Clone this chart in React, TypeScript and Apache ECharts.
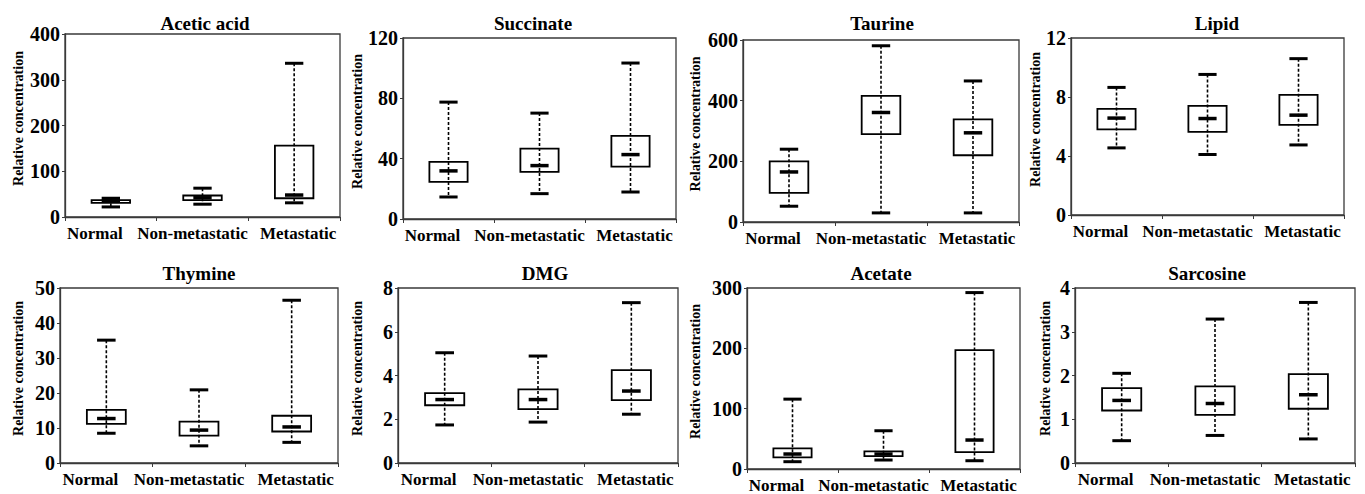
import React, { useEffect, useRef } from "react";
import * as echarts from "echarts";

const categories = ["Normal", "Non-metastatic", "Metastatic"];

// each row: [min, q1, median, q3, max] for Normal, Non-metastatic, Metastatic
const aceticAcid = [[22, 31, 35, 37, 41], [28, 37, 42, 47, 63], [31, 41, 48, 156, 336]];
const succinate = [[14.6, 24.6, 31.9, 37.9, 77.5], [16.8, 31.2, 35.4, 46.7, 70.2], [17.9, 34.7, 42.7, 55.1, 103.4]];
const taurine = [[52, 96, 165, 200, 240], [30, 290, 361, 416, 581], [30, 220, 294, 338, 465]];
const lipid = [[4.55, 5.8, 6.57, 7.2, 8.65], [4.1, 5.64, 6.54, 7.4, 9.53], [4.75, 6.11, 6.77, 8.15, 10.6]];
const thymine = [[8.5, 11.2, 12.7, 15.2, 35.1], [4.9, 7.8, 9.4, 11.8, 20.9], [5.9, 9.0, 10.3, 13.5, 46.5]];
const dmg = [[1.74, 2.64, 2.9, 3.19, 5.04], [1.87, 2.46, 2.9, 3.37, 4.89], [2.23, 2.87, 3.29, 4.25, 7.33]];
const acetate = [[12.1, 19.3, 24.8, 34.2, 115.8], [14.9, 21.5, 24.8, 29.3, 63.4], [13.7, 28.1, 48, 196.9, 292.4]];
const sarcosine = [[0.51, 1.2, 1.43, 1.71, 2.05], [0.63, 1.1, 1.36, 1.75, 3.29], [0.55, 1.24, 1.56, 2.03, 3.67]];

const titles = ["Acetic acid", "Succinate", "Taurine", "Lipid", "Thymine", "DMG", "Acetate", "Sarcosine"];
const datasets = [aceticAcid, succinate, taurine, lipid, thymine, dmg, acetate, sarcosine];
const yMax = [400, 120, 600, 12, 50, 8, 300, 4];
const yInterval = [100, 40, 200, 4, 10, 2, 100, 1];

// layout (pixels)
const grids = [
  { left: 65, top: 34, width: 275, height: 183 },
  { left: 403, top: 38, width: 273, height: 181 },
  { left: 743, top: 40, width: 276, height: 182 },
  { left: 1071, top: 38, width: 273, height: 177 },
  { left: 60, top: 288, width: 278, height: 175 },
  { left: 398, top: 288, width: 280, height: 175 },
  { left: 747, top: 288, width: 273, height: 181 },
  { left: 1075, top: 288, width: 280, height: 175 },
];
const titleX = [200, 528, 877, 1212, 194, 540, 876, 1202];
const titleY = [9, 9, 9, 9, 259, 259, 259, 259];
const nameGaps = [40, 38, 41, 22, 35, 34, 45, 23];

const FONT = "'Liberation Serif', 'Times New Roman', serif";

const labelRich = {
  n: { fontFamily: FONT, fontWeight: "bold", fontSize: 17, color: "#000", padding: [0, 32, 0, 0] },
  nm: { fontFamily: FONT, fontWeight: "bold", fontSize: 17, color: "#000", padding: [0, 20, 0, 0] },
  m: { fontFamily: FONT, fontWeight: "bold", fontSize: 17, color: "#000", padding: [0, 0, 0, 8] },
};

function renderBox(params: any, api: any) {
  const x = api.value(0);
  const lo = api.coord([x, api.value(1)]);
  const q1 = api.coord([x, api.value(2)]);
  const med = api.coord([x, api.value(3)]);
  const q3 = api.coord([x, api.value(4)]);
  const hi = api.coord([x, api.value(5)]);
  const band = api.size([1, 0])[0];
  const bw = band * 0.42;
  const cw = band * 0.2;
  const cx = lo[0];
  return {
    type: "group",
    children: [
      {
        type: "rect",
        shape: { x: cx - bw / 2, y: q3[1], width: bw, height: q1[1] - q3[1] },
        style: { fill: "#fff", stroke: "#000", lineWidth: 1.8 },
      },
      {
        type: "line",
        shape: { x1: cx, y1: hi[1], x2: cx, y2: lo[1] },
        style: { stroke: "#000", lineWidth: 1.6, lineDash: [3, 2] },
      },
      {
        type: "line",
        shape: { x1: cx - cw / 2, y1: hi[1], x2: cx + cw / 2, y2: hi[1] },
        style: { stroke: "#000", lineWidth: 3 },
      },
      {
        type: "line",
        shape: { x1: cx - cw / 2, y1: lo[1], x2: cx + cw / 2, y2: lo[1] },
        style: { stroke: "#000", lineWidth: 3 },
      },
      {
        type: "line",
        shape: { x1: cx - cw / 2, y1: med[1], x2: cx + cw / 2, y2: med[1] },
        style: { stroke: "#000", lineWidth: 3.5 },
      },
    ],
  };
}

export default function App() {
  const ref = useRef<HTMLDivElement>(null);
  useEffect(() => {
    if (!ref.current) return;
    const chart = echarts.init(ref.current, null, { renderer: "svg" });
    const option: any = {
      animation: false,
      backgroundColor: "#fff",
      title: titles.map((t, i) => ({
        text: t,
        left: titleX[i],
        top: titleY[i],
        textAlign: "center",
        textStyle: { fontFamily: FONT, fontWeight: "bold", fontSize: 19, color: "#000" },
      })),
      grid: grids.map((g) => ({
        ...g,
        show: true,
        borderColor: "#3a3a3a",
        borderWidth: 1.3,
        backgroundColor: "transparent",
        containLabel: false,
      })),
      xAxis: grids.map((_, i) => ({
        type: "category",
        gridIndex: i,
        data: categories,
        boundaryGap: true,
        axisLine: { lineStyle: { color: "#3a3a3a", width: 1.3 } },
        axisTick: { show: true, length: 4, lineStyle: { color: "#3a3a3a" } },
        axisLabel: {
          interval: 0,
          margin: 8,
          formatter: (v: string) => (v === "Normal" ? `{n|${v}}` : v === "Non-metastatic" ? `{nm|${v}}` : `{m|${v}}`),
          rich: labelRich,
        },
        splitLine: { show: false },
      })),
      yAxis: grids.map((_, i) => ({
        type: "value",
        gridIndex: i,
        min: 0,
        max: yMax[i],
        interval: yInterval[i],
        name: "Relative concentration",
        nameLocation: "middle",
        nameGap: nameGaps[i],
        nameTextStyle: { fontFamily: FONT, fontWeight: "bold", fontSize: 14, color: "#000", padding: [0, 0, 0, 14] },
        axisLine: { show: true, lineStyle: { color: "#3a3a3a", width: 1.3 } },
        axisTick: { show: true, length: 3, lineStyle: { color: "#3a3a3a" } },
        axisLabel: { fontFamily: FONT, fontWeight: "bold", fontSize: 20, color: "#000", margin: 5 },
        splitLine: { show: false },
      })),
      series: datasets.map((d, i) => ({
        type: "custom",
        xAxisIndex: i,
        yAxisIndex: i,
        renderItem: renderBox,
        encode: { x: 0, y: [1, 2, 3, 4, 5] },
        data: d.map((row, j) => [j, ...row]),
        clip: false,
      })),
    };
    chart.setOption(option);
    return () => chart.dispose();
  }, []);
  return (
    <div
      ref={ref}
      style={{ position: "fixed", left: 0, top: 0, width: 1365, height: 494, background: "#fff" }}
    />
  );
}
